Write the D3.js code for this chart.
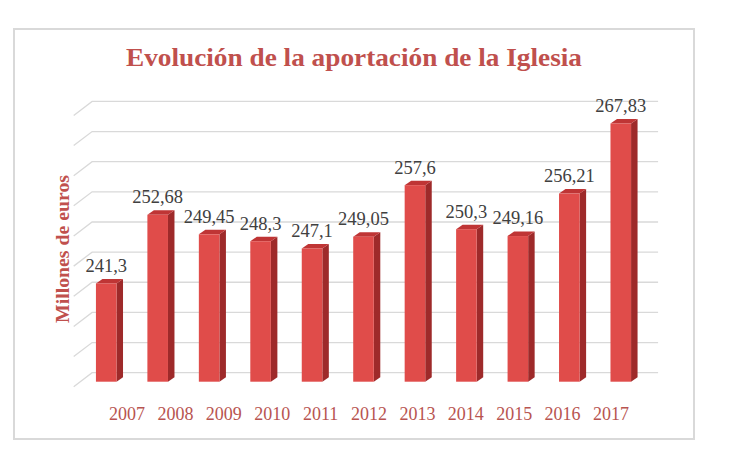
<!DOCTYPE html>
<html>
<head>
<meta charset="utf-8">
<script src="https://cdn.jsdelivr.net/npm/d3@7"></script>
<style>
  html, body { margin: 0; padding: 0; background: #fff; }
  svg { display: block; }
</style>
</head>
<body>
<svg id="chart" width="730" height="450"></svg>
<script>
// ---- data ----
const title = "Evolución de la aportación de la Iglesia";
const yAxisTitle = "Millones de euros";
const years = ["2007","2008","2009","2010","2011","2012","2013","2014","2015","2016","2017"];
const values = [241.3, 252.68, 249.45, 248.3, 247.1, 249.05, 257.6, 250.3, 249.16, 256.21, 267.83];
const valueLabels = ["241,3","252,68","249,45","248,3","247,1","249,05","257,6","250,3","249,16","256,21","267,83"];
const gridTicks = [225, 230, 235, 240, 245, 250, 255, 260, 265, 270];

// ---- layout ----
const svg = d3.select("#chart");
const frontShift = {dx: -11.6, dy: 9};    // bar front plane relative to back wall
const wallDepth = {dx: -18.4, dy: 14};     // side wall depth
const barDepth = {dx: 6.5, dy: -4.5};      // bar depth

const x = d3.scaleBand().domain(years).range([80.5, 646.5]).paddingInner(0.6).paddingOuter(0.3);
const yWall = d3.scaleLinear().domain([225, 270]).range([372.7, 101.4]);
const xLab = d3.scalePoint().domain(years).range([127, 611]);

// frame
svg.append("rect")
  .attr("x", 14).attr("y", 29).attr("width", 680).attr("height", 410)
  .attr("fill", "#fff").attr("stroke", "#d9d9d9").attr("stroke-width", 2);

// title
svg.append("text")
  .attr("x", 354).attr("y", 66)
  .attr("text-anchor", "middle")
  .attr("font-family", "'Liberation Serif', serif")
  .attr("font-weight", "bold")
  .attr("font-size", 26)
  .attr("textLength", 456)
  .attr("lengthAdjust", "spacingAndGlyphs")
  .attr("fill", "#c0504d")
  .text(title);

// y-axis title
svg.append("text")
  .attr("transform", "translate(69,249) rotate(-90)")
  .attr("text-anchor", "middle")
  .attr("font-family", "'Liberation Serif', serif")
  .attr("font-weight", "bold")
  .attr("font-size", 18.5)
  .attr("textLength", 148)
  .attr("lengthAdjust", "spacingAndGlyphs")
  .attr("fill", "#c0504d")
  .text(yAxisTitle);

// gridlines (back wall + side wall)
const wallLeft = x.range()[0] - frontShift.dx;
const wallRight = x.range()[1] - frontShift.dx;
const grid = svg.append("g").attr("stroke", "#d9d9d9").attr("stroke-width", 1.3).attr("fill", "none");
gridTicks.forEach(t => {
  const yy = yWall(t);
  grid.append("path")
    .attr("d", `M${wallLeft + wallDepth.dx},${yy + wallDepth.dy} L${wallLeft},${yy} L${wallRight},${yy}`);
});

// bars
const base = yWall.domain()[0];
const bars = svg.append("g");
years.forEach((yr, i) => {
  const v = values[i];
  const x0 = x(yr), w = x.bandwidth();
  const yTop = yWall(v) + frontShift.dy;
  const yBot = yWall(base) + frontShift.dy;
  const g = bars.append("g");
  // side
  g.append("path")
    .attr("d", `M${x0 + w},${yTop} L${x0 + w + barDepth.dx},${yTop + barDepth.dy} L${x0 + w + barDepth.dx},${yBot + barDepth.dy} L${x0 + w},${yBot} Z`)
    .attr("fill", "#9e2a2a");
  // top
  g.append("path")
    .attr("d", `M${x0},${yTop} L${x0 + barDepth.dx},${yTop + barDepth.dy} L${x0 + w + barDepth.dx},${yTop + barDepth.dy} L${x0 + w},${yTop} Z`)
    .attr("fill", "#bf3535");
  // front
  g.append("rect")
    .attr("x", x0).attr("y", yTop).attr("width", w).attr("height", yBot - yTop)
    .attr("fill", "#e04c4a");
  // label
  g.append("text")
    .attr("x", x0 + w / 2).attr("y", yTop - 11.6)
    .attr("text-anchor", "middle")
    .attr("font-family", "'Liberation Serif', serif")
    .attr("font-size", 18.5)
    .attr("fill", "#404040")
    .text(valueLabels[i]);
});

// category labels
svg.append("g").selectAll("text").data(years).join("text")
  .attr("x", d => xLab(d)).attr("y", 420)
  .attr("text-anchor", "middle")
  .attr("font-family", "'Liberation Serif', serif")
  .attr("font-size", 18)
  .attr("fill", "#b85450")
  .text(d => d);
</script>
</body>
</html>
